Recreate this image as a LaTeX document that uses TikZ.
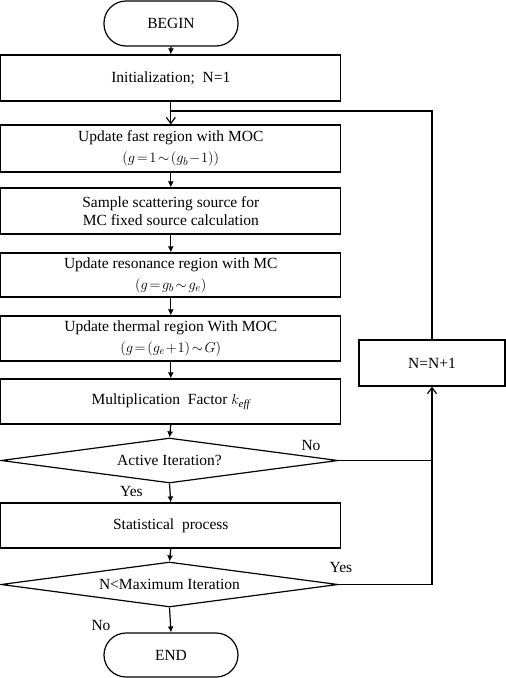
\documentclass[tikz,border=0pt]{standalone}
\usepackage{fontspec}
\setmainfont{Liberation Serif}
\usetikzlibrary{arrows.meta,shapes.geometric}
\thickmuskip=2mu
\medmuskip=1mu

\begin{document}
\begin{tikzpicture}[x=1pt,y=-1pt,line width=1.2pt,
	font=\fontsize{15.5}{19}\selectfont,
	box/.style={draw,rectangle,minimum width=340pt,inner sep=0pt,align=center},
	term/.style={draw,rectangle,rounded corners=22pt,minimum width=134pt,minimum height=45pt},
	test/.style={draw,diamond,aspect=7.5,minimum width=337pt,minimum height=45pt,inner sep=0pt},
	arr/.style={-{Latex[length=6pt,width=6pt]}},
	barb/.style={-{Straight Barb[length=6pt,width=9pt]}}]
\useasboundingbox (0,0) rectangle (506,678);
\begin{scope}[scale=1]
\node[term] (begin) at (171,23.5) {BEGIN};
\node[box,minimum height=46pt] (init) at (170.8,78) {Initialization;\ \ N=1};
\node[box,minimum height=47pt] (fast) at (170.8,148.5) {Update fast region with MOC\\[2pt]
	$\bigl(g=1\sim\bigl(g_b-1\bigr)\bigr)$};
\node[box,minimum height=46pt] (sample) at (170.8,211) {Sample scattering source for\\[-1pt]
	MC fixed source calculation};
\node[box,minimum height=44pt] (reson) at (170.8,275) {Update resonance region with MC\\[2pt]
	$\bigl(g=g_b\sim g_e\bigr)$};
\node[box,minimum height=45pt] (therm) at (170.8,338.5) {Update thermal region With MOC\\[2pt]
	$\bigl(g=\bigl(g_e+1\bigr)\sim G\bigr)$};
\node[box,minimum height=45pt] (mult) at (170.8,401.5) {Multiplication\ \ Factor $k_{\mathit{eff}}$};
\node[test] (active) at (169.5,460.5) {Active Iteration?};
\node[box,minimum height=45pt] (stat) at (170.8,525.5) {Statistical\ \ process};
\node[test] (maxit) at (169.5,584.5) {N<Maximum Iteration};
\node[term,minimum height=44pt] (end) at (171,655) {END};
\node[draw,rectangle,minimum width=146pt,minimum height=46pt] (next) at (432,363) {N=N+1};

\coordinate (join) at (170.8,111);

\foreach \a/\b in {begin/init,fast/sample,sample/reson,reson/therm,therm/mult,mult/active,active/stat,stat/maxit,maxit/end}
{
	\draw[arr] (\a.south) -- (\b.north);
}
\draw[barb] (init.south) -- (fast.north);
\draw (next.north) |- (join);
\draw (active.east) -- (active.east -| next.south);
\draw[barb] (maxit.east) -| (next.south);

\node (noa) at (311,445) {No};
\node (yesa) at (131.5,491) {Yes};
\node (yesb) at (341,567) {Yes};
\node (nob) at (101,625) {No};
\end{scope}
\end{tikzpicture}
\end{document}
